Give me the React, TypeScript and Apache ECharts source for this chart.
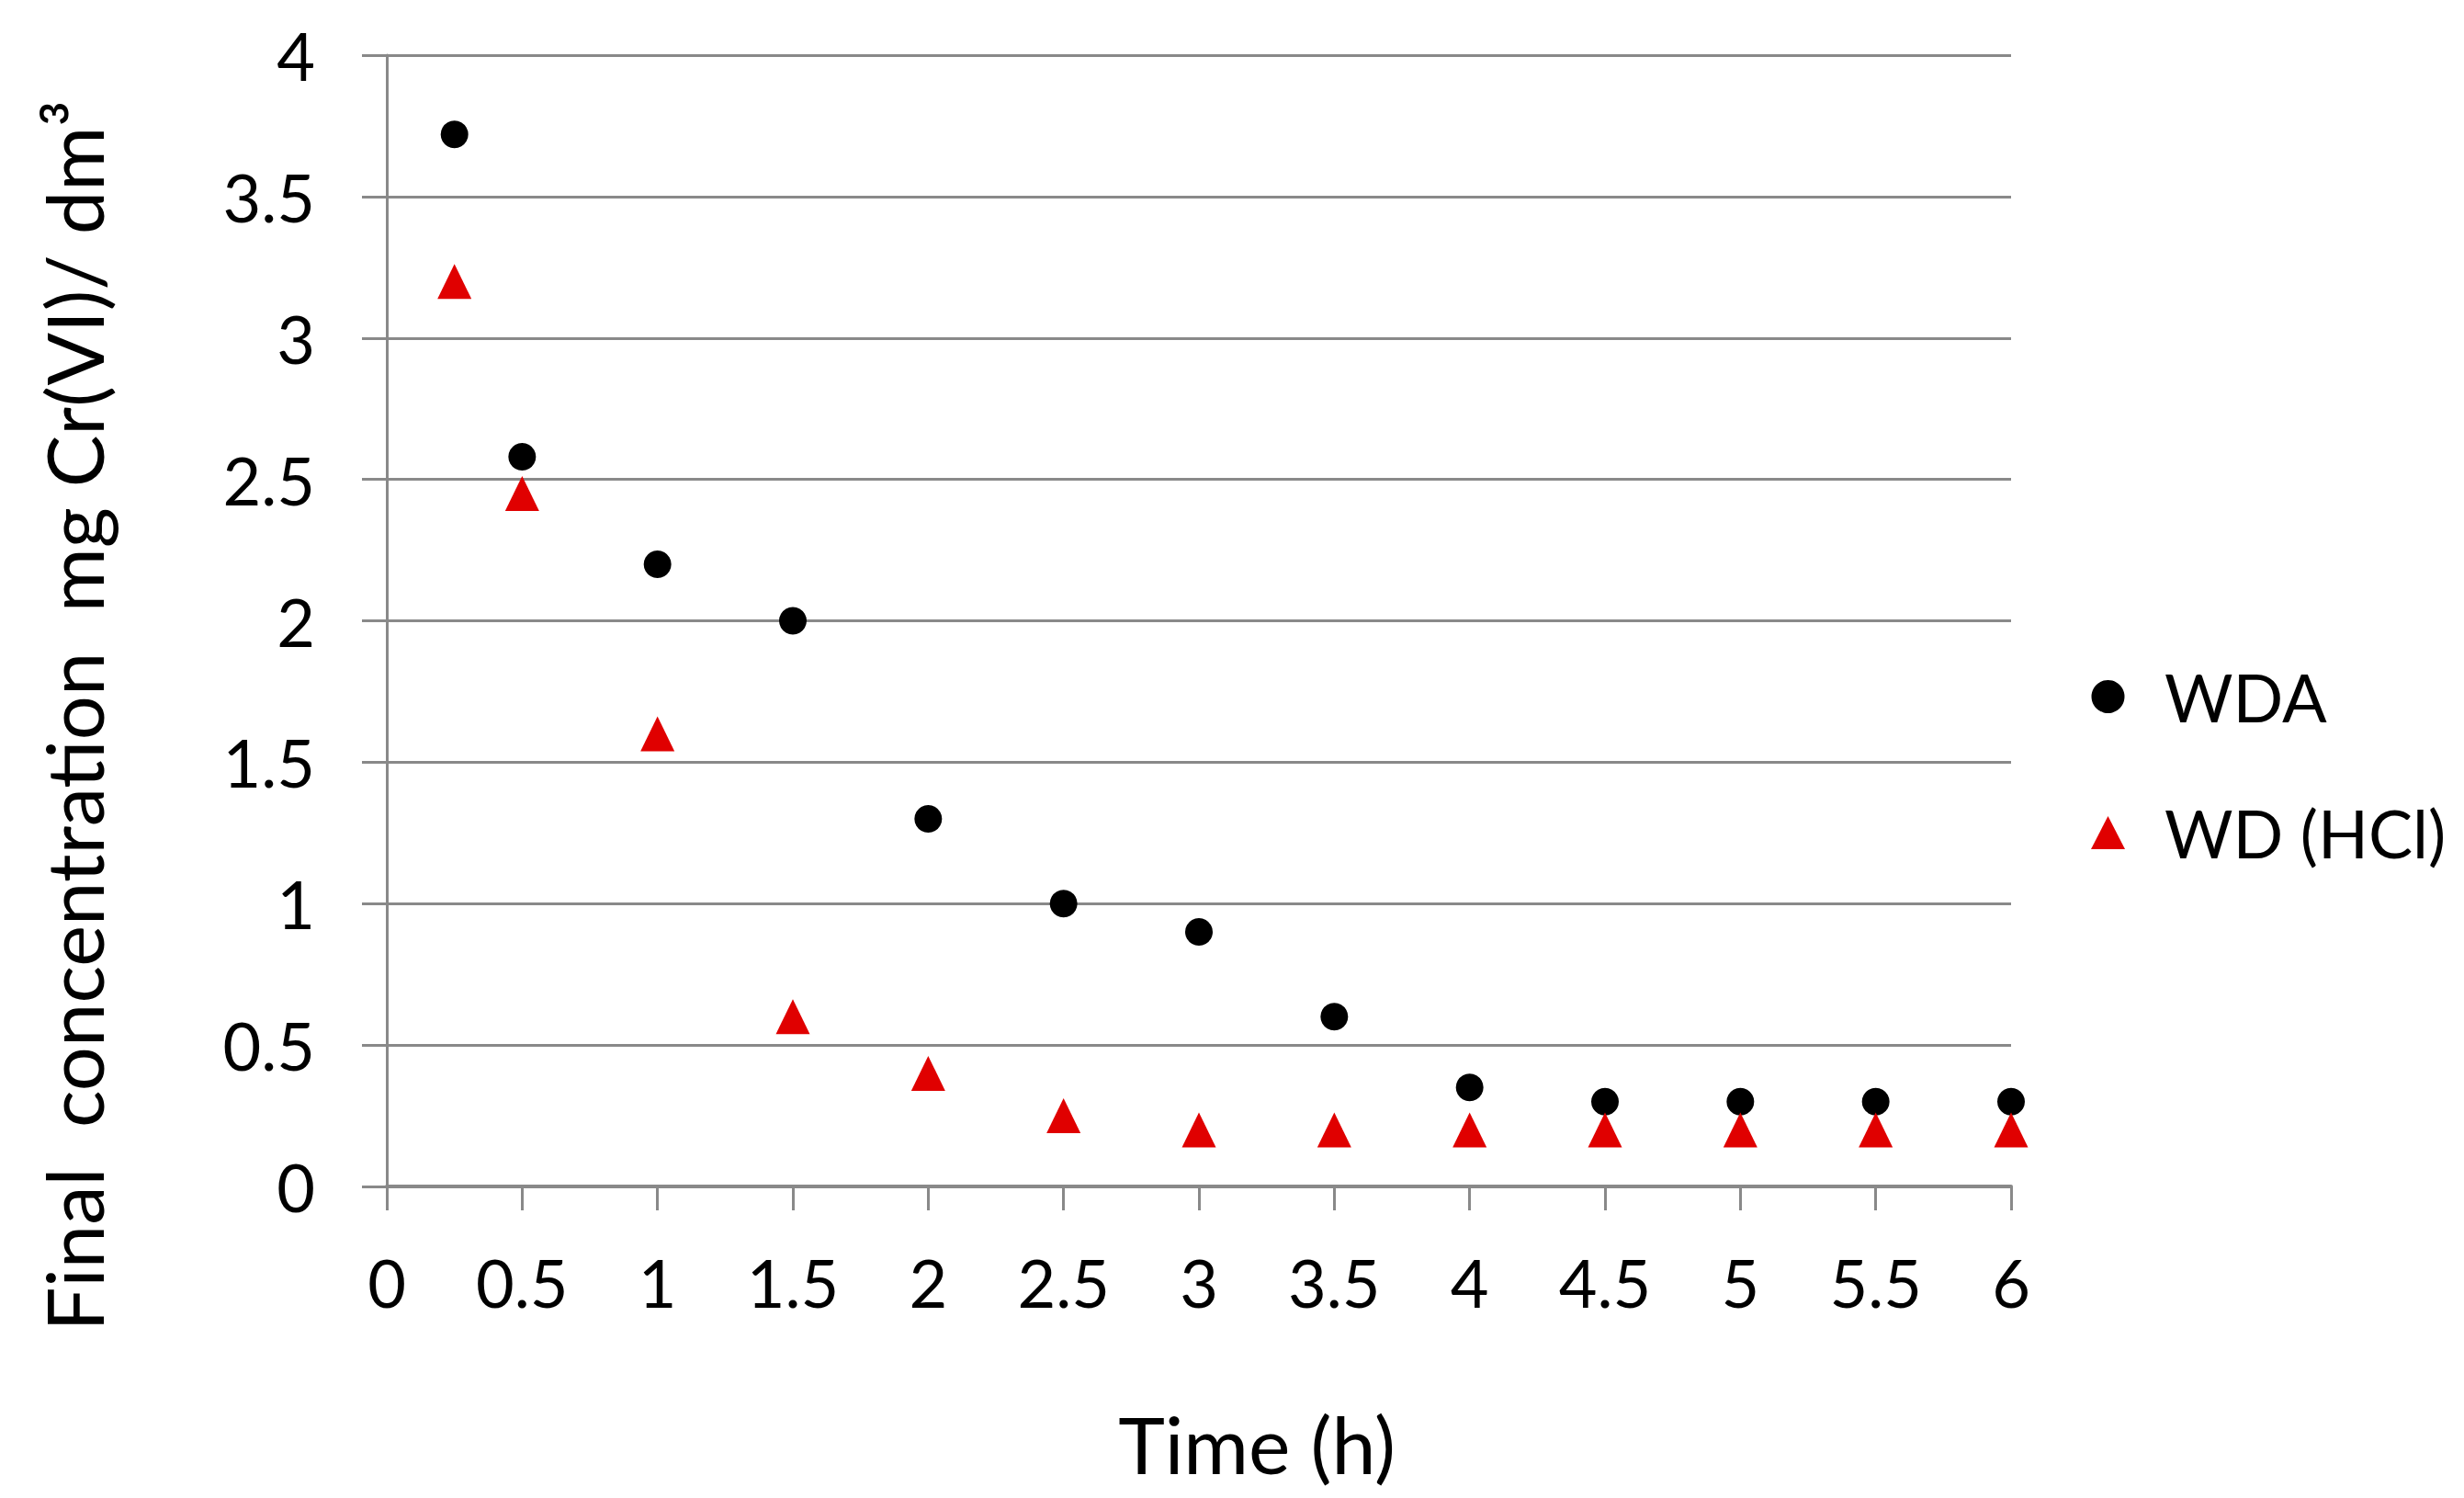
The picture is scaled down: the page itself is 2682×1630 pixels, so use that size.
import React, { useEffect, useRef } from "react";
import * as echarts from "echarts";

const timeH = [0.25, 0.5, 1, 1.5, 2, 2.5, 3, 3.5, 4, 4.5, 5, 5.5, 6];
const wda = [3.72, 2.58, 2.2, 2.0, 1.3, 1.0, 0.9, 0.6, 0.35, 0.3, 0.3, 0.3, 0.3];
const wdHcl = [3.2, 2.45, 1.6, 0.6, 0.4, 0.25, 0.2, 0.2, 0.2, 0.2, 0.2, 0.2, 0.2];
const seriesNames = ["WDA", "WD (HCl)"];
const xAxisTitle = "Time (h)";
const yAxisTitle = "Final  concentration  mg Cr(VI)/ dm³";

const FONT = "Lato";
const GRID_COLOR = "#898989";

export default function App() {
  const ref = useRef<HTMLDivElement>(null);
  useEffect(() => {
    if (!ref.current) return;
    const chart = echarts.init(ref.current, undefined, { renderer: "svg" });
    chart.setOption({
      animation: false,
      backgroundColor: "#ffffff",
      grid: { left: 421, right: 493, top: 60, bottom: 339, containLabel: false },
      legend: {
        orient: "vertical",
        left: 2271,
        top: 717,
        itemWidth: 37,
        itemHeight: 36,
        itemGap: 76,
        symbolKeepAspect: true,
        data: seriesNames,
        textStyle: {
          fontFamily: FONT,
          fontSize: 72,
          color: "#000",
          lineHeight: 72,
          padding: [0, 0, 0, 38],
        },
      },
      xAxis: {
        type: "value",
        min: 0,
        max: 6,
        interval: 0.5,
        axisLine: { show: true, lineStyle: { color: GRID_COLOR, width: 4 } },
        axisTick: { show: true, inside: false, length: 26, lineStyle: { color: GRID_COLOR, width: 3 } },
        axisLabel: { fontFamily: FONT, fontSize: 72, color: "#000", margin: 68 },
        splitLine: { show: false },
      },
      yAxis: {
        type: "value",
        min: 0,
        max: 4,
        interval: 0.5,
        axisLine: { show: true, lineStyle: { color: GRID_COLOR, width: 3 } },
        axisTick: { show: true, inside: false, length: 27, lineStyle: { color: GRID_COLOR, width: 3 } },
        axisLabel: { fontFamily: FONT, fontSize: 72, color: "#000", margin: 78 },
        splitLine: { show: true, lineStyle: { color: GRID_COLOR, width: 3 } },
      },
      graphic: [
        {
          type: "text",
          x: 1368,
          y: 1570,
          style: {
            text: xAxisTitle,
            fontFamily: FONT,
            fontSize: 86,
            fill: "#000",
            align: "center",
            verticalAlign: "middle",
          },
        },
        {
          type: "text",
          x: 80,
          y: 779,
          rotation: Math.PI / 2,
          style: {
            text: yAxisTitle,
            fontFamily: FONT,
            fontSize: 85,
            fill: "#000",
            align: "center",
            verticalAlign: "middle",
          },
        },
      ],
      series: [
        {
          name: seriesNames[0],
          type: "scatter",
          symbol: "circle",
          symbolSize: 30,
          itemStyle: { color: "#000000", opacity: 1 },
          data: timeH.map((t, i) => [t, wda[i]]),
        },
        {
          name: seriesNames[1],
          type: "scatter",
          symbol: "triangle",
          symbolSize: [37, 38],
          itemStyle: { color: "#E00000", opacity: 1 },
          data: timeH.map((t, i) => [t, wdHcl[i]]),
        },
      ],
    });
    return () => chart.dispose();
  }, []);
  return (
    <div
      ref={ref}
      style={{ position: "absolute", left: 0, top: 0, width: 2682, height: 1630 }}
    />
  );
}
